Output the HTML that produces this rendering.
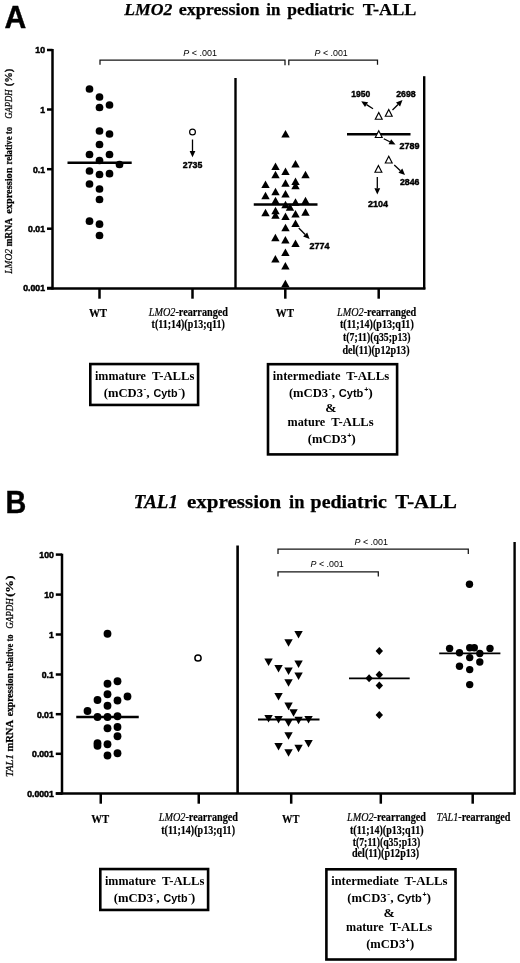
<!DOCTYPE html>
<html lang="en"><head><meta charset="utf-8"><title>LMO2 and TAL1 expression in pediatric T-ALL</title>
<style>
html,body{margin:0;padding:0;background:#fff;}
svg{display:block;filter:blur(0.4px);}
text{fill:#000;white-space:pre;}
</style></head>
<body>
<svg width="520" height="963" viewBox="0 0 520 963">
<rect width="520" height="963" fill="#fff"/>
<text x="4.5" y="27.9" font-family='"Liberation Sans", sans-serif' font-size="31.3" font-weight="bold" font-style="normal" text-anchor="start" textLength="21.8" lengthAdjust="spacingAndGlyphs" stroke="#000" stroke-width="0.4">A</text>
<text x="124.2" y="15" font-family='"Liberation Serif", serif' font-size="17.5" font-weight="bold" font-style="italic" text-anchor="start" textLength="48.1" lengthAdjust="spacingAndGlyphs" stroke="#000" stroke-width="0.25">LMO2</text>
<text x="178.7" y="15" font-family='"Liberation Serif", serif' font-size="17.5" font-weight="bold" font-style="normal" text-anchor="start" textLength="80.9" lengthAdjust="spacingAndGlyphs" stroke="#000" stroke-width="0.25">expression</text>
<text x="266.3" y="15" font-family='"Liberation Serif", serif' font-size="17.5" font-weight="bold" font-style="normal" text-anchor="start" textLength="14.1" lengthAdjust="spacingAndGlyphs" stroke="#000" stroke-width="0.25">in</text>
<text x="287.3" y="15" font-family='"Liberation Serif", serif' font-size="17.5" font-weight="bold" font-style="normal" text-anchor="start" textLength="66.7" lengthAdjust="spacingAndGlyphs" stroke="#000" stroke-width="0.25">pediatric</text>
<text x="362.7" y="15" font-family='"Liberation Serif", serif' font-size="17.5" font-weight="bold" font-style="normal" text-anchor="start" textLength="53.6" lengthAdjust="spacingAndGlyphs" stroke="#000" stroke-width="0.25">T-ALL</text>
<line x1="52.5" y1="49" x2="52.5" y2="289.6" stroke="#000" stroke-width="2.5" stroke-linecap="butt"/>
<line x1="47" y1="288.4" x2="425.4" y2="288.4" stroke="#000" stroke-width="2.5" stroke-linecap="butt"/>
<line x1="47" y1="50" x2="52.5" y2="50" stroke="#000" stroke-width="2.5" stroke-linecap="butt"/>
<text x="45.0" y="53.3" font-family='"Liberation Sans", sans-serif' font-size="9.2" font-weight="bold" font-style="normal" text-anchor="end" textLength="9.67" lengthAdjust="spacingAndGlyphs" stroke="#000" stroke-width="0.5">10</text>
<line x1="47" y1="109.5" x2="52.5" y2="109.5" stroke="#000" stroke-width="2.5" stroke-linecap="butt"/>
<text x="45.0" y="112.8" font-family='"Liberation Sans", sans-serif' font-size="9.2" font-weight="bold" font-style="normal" text-anchor="end" textLength="4.83" lengthAdjust="spacingAndGlyphs" stroke="#000" stroke-width="0.5">1</text>
<line x1="47" y1="169.2" x2="52.5" y2="169.2" stroke="#000" stroke-width="2.5" stroke-linecap="butt"/>
<text x="45.0" y="172.5" font-family='"Liberation Sans", sans-serif' font-size="9.2" font-weight="bold" font-style="normal" text-anchor="end" textLength="12.08" lengthAdjust="spacingAndGlyphs" stroke="#000" stroke-width="0.5">0.1</text>
<line x1="47" y1="228.7" x2="52.5" y2="228.7" stroke="#000" stroke-width="2.5" stroke-linecap="butt"/>
<text x="45.0" y="232.0" font-family='"Liberation Sans", sans-serif' font-size="9.2" font-weight="bold" font-style="normal" text-anchor="end" textLength="16.92" lengthAdjust="spacingAndGlyphs" stroke="#000" stroke-width="0.5">0.01</text>
<line x1="47" y1="288" x2="52.5" y2="288" stroke="#000" stroke-width="2.5" stroke-linecap="butt"/>
<text x="45.0" y="291.3" font-family='"Liberation Sans", sans-serif' font-size="9.2" font-weight="bold" font-style="normal" text-anchor="end" textLength="21.75" lengthAdjust="spacingAndGlyphs" stroke="#000" stroke-width="0.5">0.001</text>
<text transform="translate(12.4,273.75) rotate(-90)" font-family='"Liberation Serif", serif' font-size="11" font-weight="bold" font-style="normal" textLength="55.65" lengthAdjust="spacingAndGlyphs" stroke="#000" stroke-width="0.25"><tspan font-style="italic" font-weight="normal">LMO2</tspan> mRNA</text>
<text transform="translate(12.4,213.75) rotate(-90)" font-family='"Liberation Serif", serif' font-size="11" font-weight="bold" font-style="normal" textLength="46.25" lengthAdjust="spacingAndGlyphs" stroke="#000" stroke-width="0.25">expression</text>
<text transform="translate(12.4,164.5) rotate(-90)" font-family='"Liberation Serif", serif' font-size="11" font-weight="bold" font-style="normal" textLength="37.6" lengthAdjust="spacingAndGlyphs" stroke="#000" stroke-width="0.25">relative to</text>
<text transform="translate(12.4,118.75) rotate(-90)" font-family='"Liberation Serif", serif' font-size="11" font-weight="normal" font-style="italic" textLength="29.35" lengthAdjust="spacingAndGlyphs" stroke="#000" stroke-width="0.25">GAPDH</text>
<text transform="translate(12.4,86.25) rotate(-90)" font-family='"Liberation Serif", serif' font-size="11" font-weight="bold" font-style="normal" textLength="17.55" lengthAdjust="spacingAndGlyphs" stroke="#000" stroke-width="0.25">(%)</text>
<line x1="99.5" y1="288" x2="99.5" y2="298.7" stroke="#000" stroke-width="2.5" stroke-linecap="butt"/>
<line x1="192.5" y1="288" x2="192.5" y2="298.7" stroke="#000" stroke-width="2.5" stroke-linecap="butt"/>
<line x1="285.3" y1="288" x2="285.3" y2="298.7" stroke="#000" stroke-width="2.5" stroke-linecap="butt"/>
<line x1="378.7" y1="288" x2="378.7" y2="298.7" stroke="#000" stroke-width="2.5" stroke-linecap="butt"/>
<line x1="235.5" y1="78" x2="235.5" y2="288" stroke="#000" stroke-width="2.4" stroke-linecap="butt"/>
<line x1="424.2" y1="76.2" x2="424.2" y2="289.2" stroke="#000" stroke-width="2.4" stroke-linecap="butt"/>
<polyline points="100,64.8 100,60 285,60 285,65.2" fill="none" stroke="#141414" stroke-width="1.25"/>
<polyline points="288.8,65.2 288.8,60 377.5,60 377.5,64.8" fill="none" stroke="#141414" stroke-width="1.25"/>
<text x="183.2" y="55.5" font-family='"Liberation Sans", sans-serif' font-size="8.4" font-weight="normal" font-style="normal" text-anchor="start" textLength="33.8" lengthAdjust="spacingAndGlyphs"><tspan font-style="italic">P</tspan> &lt; .001</text>
<text x="314.5" y="55.5" font-family='"Liberation Sans", sans-serif' font-size="8.4" font-weight="normal" font-style="normal" text-anchor="start" textLength="33.3" lengthAdjust="spacingAndGlyphs"><tspan font-style="italic">P</tspan> &lt; .001</text>
<circle cx="89.5" cy="89" r="3.85" fill="#000"/>
<circle cx="99.5" cy="97" r="3.85" fill="#000"/>
<circle cx="109.5" cy="105" r="3.85" fill="#000"/>
<circle cx="99.5" cy="107.5" r="3.85" fill="#000"/>
<circle cx="99.5" cy="131" r="3.85" fill="#000"/>
<circle cx="109.5" cy="134" r="3.85" fill="#000"/>
<circle cx="99.5" cy="144.5" r="3.85" fill="#000"/>
<circle cx="89.5" cy="154.5" r="3.85" fill="#000"/>
<circle cx="109.5" cy="154.5" r="3.85" fill="#000"/>
<circle cx="99.5" cy="160.5" r="3.85" fill="#000"/>
<circle cx="119.5" cy="164.5" r="3.85" fill="#000"/>
<circle cx="89.5" cy="171" r="3.85" fill="#000"/>
<circle cx="99.5" cy="174.5" r="3.85" fill="#000"/>
<circle cx="109.5" cy="173.7" r="3.85" fill="#000"/>
<circle cx="89.5" cy="184" r="3.85" fill="#000"/>
<circle cx="99.5" cy="189" r="3.85" fill="#000"/>
<circle cx="99.5" cy="199.5" r="3.85" fill="#000"/>
<circle cx="89.5" cy="221.2" r="3.85" fill="#000"/>
<circle cx="99.5" cy="224.2" r="3.85" fill="#000"/>
<circle cx="99.5" cy="235.5" r="3.85" fill="#000"/>
<line x1="67.5" y1="162.85" x2="131.7" y2="162.85" stroke="#000" stroke-width="2.5" stroke-linecap="butt"/>
<circle cx="192.5" cy="132" r="2.9" fill="#fff" stroke="#000" stroke-width="1.2"/>
<line x1="192.5" y1="139.5" x2="192.5" y2="151.0" stroke="#000" stroke-width="1.3" stroke-linecap="butt"/>
<polygon points="192.50,157.30 189.60,151.00 195.40,151.00" fill="#000"/>
<text x="182.8" y="168.3" font-family='"Liberation Sans", sans-serif' font-size="8.6" font-weight="bold" font-style="normal" text-anchor="start" textLength="19.5" lengthAdjust="spacingAndGlyphs" stroke="#000" stroke-width="0.4">2735</text>
<polygon points="295.5,160.05 299.70,167.45 291.30,167.45" fill="#000"/>
<polygon points="275.5,162.55 279.70,169.95 271.30,169.95" fill="#000"/>
<polygon points="285.5,167.55 289.70,174.95 281.30,174.95" fill="#000"/>
<polygon points="275.5,170.80 279.70,178.20 271.30,178.20" fill="#000"/>
<polygon points="305.5,170.80 309.70,178.20 301.30,178.20" fill="#000"/>
<polygon points="295.5,177.55 299.70,184.95 291.30,184.95" fill="#000"/>
<polygon points="285.5,179.30 289.70,186.70 281.30,186.70" fill="#000"/>
<polygon points="265.5,180.55 269.70,187.95 261.30,187.95" fill="#000"/>
<polygon points="295.5,181.80 299.70,189.20 291.30,189.20" fill="#000"/>
<polygon points="275.5,187.80 279.70,195.20 271.30,195.20" fill="#000"/>
<polygon points="285.5,190.05 289.70,197.45 281.30,197.45" fill="#000"/>
<polygon points="265.5,191.80 269.70,199.20 261.30,199.20" fill="#000"/>
<polygon points="275.5,196.80 279.70,204.20 271.30,204.20" fill="#000"/>
<polygon points="305.5,196.80 309.70,204.20 301.30,204.20" fill="#000"/>
<polygon points="295.5,198.30 299.70,205.70 291.30,205.70" fill="#000"/>
<polygon points="285.5,200.80 289.70,208.20 281.30,208.20" fill="#000"/>
<polygon points="290,203.30 294.20,210.70 285.80,210.70" fill="#000"/>
<polygon points="275.5,206.80 279.70,214.20 271.30,214.20" fill="#000"/>
<polygon points="265.5,208.80 269.70,216.20 261.30,216.20" fill="#000"/>
<polygon points="305.5,208.30 309.70,215.70 301.30,215.70" fill="#000"/>
<polygon points="295.5,210.05 299.70,217.45 291.30,217.45" fill="#000"/>
<polygon points="275.5,211.30 279.70,218.70 271.30,218.70" fill="#000"/>
<polygon points="285.5,212.55 289.70,219.95 281.30,219.95" fill="#000"/>
<polygon points="295.5,219.50 299.70,226.90 291.30,226.90" fill="#000"/>
<polygon points="285.5,223.80 289.70,231.20 281.30,231.20" fill="#000"/>
<polygon points="275.4,233.80 279.60,241.20 271.20,241.20" fill="#000"/>
<polygon points="285.4,236.00 289.60,243.40 281.20,243.40" fill="#000"/>
<polygon points="295.5,239.50 299.70,246.90 291.30,246.90" fill="#000"/>
<polygon points="285.4,248.60 289.60,256.00 281.20,256.00" fill="#000"/>
<polygon points="275.4,255.00 279.60,262.40 271.20,262.40" fill="#000"/>
<polygon points="285.4,262.05 289.60,269.45 281.20,269.45" fill="#000"/>
<polygon points="285.4,279.80 289.60,287.20 281.20,287.20" fill="#000"/>
<polygon points="285.5,130.05 289.70,137.45 281.30,137.45" fill="#000"/>
<line x1="253.75" y1="204.5" x2="317.5" y2="204.5" stroke="#000" stroke-width="2.5" stroke-linecap="butt"/>
<line x1="298.75" y1="228" x2="305.16" y2="234.43" stroke="#000" stroke-width="1.3" stroke-linecap="butt"/>
<polygon points="309.60,238.90 303.10,236.48 307.21,232.39" fill="#000"/>
<text x="309.5" y="249.2" font-family='"Liberation Sans", sans-serif' font-size="8.6" font-weight="bold" font-style="normal" text-anchor="start" textLength="20" lengthAdjust="spacingAndGlyphs" stroke="#000" stroke-width="0.4">2774</text>
<line x1="347" y1="134.2" x2="410.5" y2="134.2" stroke="#000" stroke-width="2.5" stroke-linecap="butt"/>
<polygon points="378.75,112.45 382.20,119.25 375.30,119.25" fill="#fff" stroke="#000" stroke-width="1.15" stroke-linejoin="miter"/>
<polygon points="388.75,109.45 392.20,116.25 385.30,116.25" fill="#fff" stroke="#000" stroke-width="1.15" stroke-linejoin="miter"/>
<polygon points="378.75,130.70 382.20,137.50 375.30,137.50" fill="#fff" stroke="#000" stroke-width="1.15" stroke-linejoin="miter"/>
<polygon points="388.75,156.20 392.20,163.00 385.30,163.00" fill="#fff" stroke="#000" stroke-width="1.15" stroke-linejoin="miter"/>
<polygon points="378.4,165.45 381.85,172.25 374.95,172.25" fill="#fff" stroke="#000" stroke-width="1.15" stroke-linejoin="miter"/>
<line x1="373" y1="108.75" x2="366.56" y2="104.64" stroke="#000" stroke-width="1.3" stroke-linecap="butt"/>
<polygon points="361.25,101.25 368.12,102.20 365.00,107.08" fill="#000"/>
<line x1="392.5" y1="110" x2="398.05" y2="104.45" stroke="#000" stroke-width="1.3" stroke-linecap="butt"/>
<polygon points="402.50,100.00 400.10,106.51 395.99,102.40" fill="#000"/>
<line x1="383.75" y1="138.75" x2="389.84" y2="141.73" stroke="#000" stroke-width="1.3" stroke-linecap="butt"/>
<polygon points="395.50,144.50 388.57,144.34 391.12,139.13" fill="#000"/>
<line x1="394.25" y1="165" x2="400.39" y2="170.71" stroke="#000" stroke-width="1.3" stroke-linecap="butt"/>
<polygon points="405.00,175.00 398.41,172.83 402.36,168.59" fill="#000"/>
<line x1="377.3" y1="177" x2="377.3" y2="188.3" stroke="#000" stroke-width="1.3" stroke-linecap="butt"/>
<polygon points="377.30,194.60 374.40,188.30 380.20,188.30" fill="#000"/>
<text x="351.2" y="96.75" font-family='"Liberation Sans", sans-serif' font-size="8.6" font-weight="bold" font-style="normal" text-anchor="start" textLength="19" lengthAdjust="spacingAndGlyphs" stroke="#000" stroke-width="0.4">1950</text>
<text x="396.2" y="96.75" font-family='"Liberation Sans", sans-serif' font-size="8.6" font-weight="bold" font-style="normal" text-anchor="start" textLength="19.5" lengthAdjust="spacingAndGlyphs" stroke="#000" stroke-width="0.4">2698</text>
<text x="399.5" y="149.3" font-family='"Liberation Sans", sans-serif' font-size="8.6" font-weight="bold" font-style="normal" text-anchor="start" textLength="20" lengthAdjust="spacingAndGlyphs" stroke="#000" stroke-width="0.4">2789</text>
<text x="400" y="185.1" font-family='"Liberation Sans", sans-serif' font-size="8.6" font-weight="bold" font-style="normal" text-anchor="start" textLength="19.5" lengthAdjust="spacingAndGlyphs" stroke="#000" stroke-width="0.4">2846</text>
<text x="368" y="206.75" font-family='"Liberation Sans", sans-serif' font-size="8.6" font-weight="bold" font-style="normal" text-anchor="start" textLength="20" lengthAdjust="spacingAndGlyphs" stroke="#000" stroke-width="0.4">2104</text>
<text x="88.9" y="317.0" font-family='"Liberation Serif", serif' font-size="13.3" font-weight="bold" font-style="normal" text-anchor="start" textLength="18.3" lengthAdjust="spacingAndGlyphs" stroke="#000" stroke-width="0.2">WT</text>
<text x="148.75" y="315.9" font-family='"Liberation Serif", serif' font-size="12.5" font-weight="bold" font-style="normal" text-anchor="start" textLength="79.25" lengthAdjust="spacingAndGlyphs" stroke="#000" stroke-width="0.2"><tspan font-style="italic" font-weight="normal">LMO2-</tspan>rearranged</text>
<text x="151.6" y="328.4" font-family='"Liberation Serif", serif' font-size="12.5" font-weight="bold" font-style="normal" text-anchor="start" textLength="73.3" lengthAdjust="spacingAndGlyphs" stroke="#000" stroke-width="0.2">t(11;14)(p13;q11)</text>
<text x="275.7" y="317.0" font-family='"Liberation Serif", serif' font-size="13.3" font-weight="bold" font-style="normal" text-anchor="start" textLength="18.3" lengthAdjust="spacingAndGlyphs" stroke="#000" stroke-width="0.2">WT</text>
<text x="337" y="315.9" font-family='"Liberation Serif", serif' font-size="12.5" font-weight="bold" font-style="normal" text-anchor="start" textLength="79.25" lengthAdjust="spacingAndGlyphs" stroke="#000" stroke-width="0.2"><tspan font-style="italic" font-weight="normal">LMO2-</tspan>rearranged</text>
<text x="340" y="328.4" font-family='"Liberation Serif", serif' font-size="12.5" font-weight="bold" font-style="normal" text-anchor="start" textLength="73.75" lengthAdjust="spacingAndGlyphs" stroke="#000" stroke-width="0.2">t(11;14)(p13;q11)</text>
<text x="343" y="341.4" font-family='"Liberation Serif", serif' font-size="12.5" font-weight="bold" font-style="normal" text-anchor="start" textLength="67.5" lengthAdjust="spacingAndGlyphs" stroke="#000" stroke-width="0.2">t(7;11)(q35;p13)</text>
<text x="342.5" y="354.0" font-family='"Liberation Serif", serif' font-size="12.5" font-weight="bold" font-style="normal" text-anchor="start" textLength="67" lengthAdjust="spacingAndGlyphs" stroke="#000" stroke-width="0.2">del(11)(p12p13)</text>
<rect x="90.30" y="364.05" width="107.80" height="40.90" fill="none" stroke="#000" stroke-width="2.6"/>
<text x="95" y="380.3" font-family='"Liberation Serif", serif' font-size="13.5" font-weight="bold" font-style="normal" text-anchor="start" textLength="51" lengthAdjust="spacingAndGlyphs">immature</text>
<text x="151.9" y="380.3" font-family='"Liberation Serif", serif' font-size="13.5" font-weight="bold" font-style="normal" text-anchor="start" textLength="42.5" lengthAdjust="spacingAndGlyphs">T-ALLs</text>
<text x="103.75" y="397.0" font-family='"Liberation Serif", serif' font-size="13.5" font-weight="bold" font-style="normal" text-anchor="start" textLength="39.3" lengthAdjust="spacingAndGlyphs">(mCD3</text>
<text x="143.6" y="392.4" font-family='"Liberation Serif", serif' font-size="8.5" font-weight="bold" font-style="normal" text-anchor="start">-</text>
<text x="146.3" y="397.0" font-family='"Liberation Serif", serif' font-size="13.5" font-weight="bold" font-style="normal" text-anchor="start">,</text>
<text x="153.5" y="397.0" font-family='"Liberation Sans", sans-serif' font-size="11" font-weight="bold" font-style="normal" text-anchor="start" textLength="24" lengthAdjust="spacingAndGlyphs">Cytb</text>
<text x="178.2" y="392.4" font-family='"Liberation Serif", serif' font-size="8.5" font-weight="bold" font-style="normal" text-anchor="start">-</text>
<text x="180.8" y="397.0" font-family='"Liberation Serif", serif' font-size="13.5" font-weight="bold" font-style="normal" text-anchor="start">)</text>
<rect x="268.00" y="364.20" width="129.10" height="90.20" fill="none" stroke="#000" stroke-width="2.6"/>
<text x="272.8" y="379.7" font-family='"Liberation Serif", serif' font-size="13.5" font-weight="bold" font-style="normal" text-anchor="start" textLength="67.7" lengthAdjust="spacingAndGlyphs">intermediate</text>
<text x="346.2" y="379.7" font-family='"Liberation Serif", serif' font-size="13.5" font-weight="bold" font-style="normal" text-anchor="start" textLength="43" lengthAdjust="spacingAndGlyphs">T-ALLs</text>
<text x="288.9" y="396.6" font-family='"Liberation Serif", serif' font-size="13.5" font-weight="bold" font-style="normal" text-anchor="start" textLength="39.3" lengthAdjust="spacingAndGlyphs">(mCD3</text>
<text x="328.8" y="392.0" font-family='"Liberation Serif", serif' font-size="8.5" font-weight="bold" font-style="normal" text-anchor="start">-</text>
<text x="331.8" y="396.6" font-family='"Liberation Serif", serif' font-size="13.5" font-weight="bold" font-style="normal" text-anchor="start">,</text>
<text x="338.7" y="396.6" font-family='"Liberation Sans", sans-serif' font-size="11" font-weight="bold" font-style="normal" text-anchor="start" textLength="24.7" lengthAdjust="spacingAndGlyphs">Cytb</text>
<text x="364.2" y="391.8" font-family='"Liberation Sans", sans-serif' font-size="7" font-weight="bold" font-style="normal" text-anchor="start">+</text>
<text x="368.2" y="396.6" font-family='"Liberation Serif", serif' font-size="13.5" font-weight="bold" font-style="normal" text-anchor="start">)</text>
<text x="330.8" y="411.5" font-family='"Liberation Serif", serif' font-size="13.5" font-weight="bold" font-style="normal" text-anchor="middle">&amp;</text>
<text x="287.6" y="426.2" font-family='"Liberation Serif", serif' font-size="13.5" font-weight="bold" font-style="normal" text-anchor="start" textLength="37.7" lengthAdjust="spacingAndGlyphs">mature</text>
<text x="331.3" y="426.2" font-family='"Liberation Serif", serif' font-size="13.5" font-weight="bold" font-style="normal" text-anchor="start" textLength="42.4" lengthAdjust="spacingAndGlyphs">T-ALLs</text>
<text x="307.8" y="443" font-family='"Liberation Serif", serif' font-size="13.5" font-weight="bold" font-style="normal" text-anchor="start" textLength="39.0" lengthAdjust="spacingAndGlyphs">(mCD3</text>
<text x="347.2" y="438.2" font-family='"Liberation Sans", sans-serif' font-size="7" font-weight="bold" font-style="normal" text-anchor="start">+</text>
<text x="351.3" y="443" font-family='"Liberation Serif", serif' font-size="13.5" font-weight="bold" font-style="normal" text-anchor="start">)</text>
<text x="5.4" y="513.3" font-family='"Liberation Sans", sans-serif' font-size="31" font-weight="bold" font-style="normal" text-anchor="start" textLength="20.8" lengthAdjust="spacingAndGlyphs" stroke="#000" stroke-width="0.4">B</text>
<text x="133.7" y="508.2" font-family='"Liberation Serif", serif' font-size="19.3" font-weight="bold" font-style="italic" text-anchor="start" textLength="44.2" lengthAdjust="spacingAndGlyphs" stroke="#000" stroke-width="0.25">TAL1</text>
<text x="186.9" y="508.2" font-family='"Liberation Serif", serif' font-size="19.3" font-weight="bold" font-style="normal" text-anchor="start" textLength="94.4" lengthAdjust="spacingAndGlyphs" stroke="#000" stroke-width="0.25">expression</text>
<text x="289" y="508.2" font-family='"Liberation Serif", serif' font-size="19.3" font-weight="bold" font-style="normal" text-anchor="start" textLength="15.4" lengthAdjust="spacingAndGlyphs" stroke="#000" stroke-width="0.25">in</text>
<text x="310.6" y="508.2" font-family='"Liberation Serif", serif' font-size="19.3" font-weight="bold" font-style="normal" text-anchor="start" textLength="76.3" lengthAdjust="spacingAndGlyphs" stroke="#000" stroke-width="0.25">pediatric</text>
<text x="395.2" y="508.2" font-family='"Liberation Serif", serif' font-size="19.3" font-weight="bold" font-style="normal" text-anchor="start" textLength="61.8" lengthAdjust="spacingAndGlyphs" stroke="#000" stroke-width="0.25">T-ALL</text>
<line x1="62" y1="553.7" x2="62" y2="794.5" stroke="#000" stroke-width="2.5" stroke-linecap="butt"/>
<line x1="55.8" y1="793.5" x2="515.6" y2="793.5" stroke="#000" stroke-width="2.5" stroke-linecap="butt"/>
<line x1="55.8" y1="554.6" x2="62" y2="554.6" stroke="#000" stroke-width="2.5" stroke-linecap="butt"/>
<text x="53.8" y="557.9" font-family='"Liberation Sans", sans-serif' font-size="9.2" font-weight="bold" font-style="normal" text-anchor="end" textLength="14.5" lengthAdjust="spacingAndGlyphs" stroke="#000" stroke-width="0.5">100</text>
<line x1="55.8" y1="594.6" x2="62" y2="594.6" stroke="#000" stroke-width="2.5" stroke-linecap="butt"/>
<text x="53.8" y="597.9" font-family='"Liberation Sans", sans-serif' font-size="9.2" font-weight="bold" font-style="normal" text-anchor="end" textLength="9.67" lengthAdjust="spacingAndGlyphs" stroke="#000" stroke-width="0.5">10</text>
<line x1="55.8" y1="634.5" x2="62" y2="634.5" stroke="#000" stroke-width="2.5" stroke-linecap="butt"/>
<text x="53.8" y="637.8" font-family='"Liberation Sans", sans-serif' font-size="9.2" font-weight="bold" font-style="normal" text-anchor="end" textLength="4.83" lengthAdjust="spacingAndGlyphs" stroke="#000" stroke-width="0.5">1</text>
<line x1="55.8" y1="674.5" x2="62" y2="674.5" stroke="#000" stroke-width="2.5" stroke-linecap="butt"/>
<text x="53.8" y="677.8" font-family='"Liberation Sans", sans-serif' font-size="9.2" font-weight="bold" font-style="normal" text-anchor="end" textLength="12.08" lengthAdjust="spacingAndGlyphs" stroke="#000" stroke-width="0.5">0.1</text>
<line x1="55.8" y1="714.2" x2="62" y2="714.2" stroke="#000" stroke-width="2.5" stroke-linecap="butt"/>
<text x="53.8" y="717.5" font-family='"Liberation Sans", sans-serif' font-size="9.2" font-weight="bold" font-style="normal" text-anchor="end" textLength="16.92" lengthAdjust="spacingAndGlyphs" stroke="#000" stroke-width="0.5">0.01</text>
<line x1="55.8" y1="753.8" x2="62" y2="753.8" stroke="#000" stroke-width="2.5" stroke-linecap="butt"/>
<text x="53.8" y="757.0999999999999" font-family='"Liberation Sans", sans-serif' font-size="9.2" font-weight="bold" font-style="normal" text-anchor="end" textLength="21.75" lengthAdjust="spacingAndGlyphs" stroke="#000" stroke-width="0.5">0.001</text>
<line x1="55.8" y1="793.5" x2="62" y2="793.5" stroke="#000" stroke-width="2.5" stroke-linecap="butt"/>
<text x="53.8" y="796.8" font-family='"Liberation Sans", sans-serif' font-size="9.2" font-weight="bold" font-style="normal" text-anchor="end" textLength="26.59" lengthAdjust="spacingAndGlyphs" stroke="#000" stroke-width="0.5">0.0001</text>
<text transform="translate(12.7,776.9) rotate(-90)" font-family='"Liberation Serif", serif' font-size="11" font-weight="bold" font-style="normal" textLength="56.9" lengthAdjust="spacingAndGlyphs" stroke="#000" stroke-width="0.25"><tspan font-style="italic" font-weight="normal">TAL1</tspan> mRNA</text>
<text transform="translate(12.7,716.25) rotate(-90)" font-family='"Liberation Serif", serif' font-size="11" font-weight="bold" font-style="normal" textLength="43.25" lengthAdjust="spacingAndGlyphs" stroke="#000" stroke-width="0.25">expression</text>
<text transform="translate(12.7,671) rotate(-90)" font-family='"Liberation Serif", serif' font-size="11" font-weight="bold" font-style="normal" textLength="36.6" lengthAdjust="spacingAndGlyphs" stroke="#000" stroke-width="0.25">relative to</text>
<text transform="translate(12.7,628.75) rotate(-90)" font-family='"Liberation Serif", serif' font-size="11" font-weight="normal" font-style="italic" textLength="30.65" lengthAdjust="spacingAndGlyphs" stroke="#000" stroke-width="0.25">GAPDH</text>
<text transform="translate(12.7,596.9) rotate(-90)" font-family='"Liberation Serif", serif' font-size="11" font-weight="bold" font-style="normal" textLength="21.3" lengthAdjust="spacingAndGlyphs" stroke="#000" stroke-width="0.25">(%)</text>
<line x1="100.75" y1="793.5" x2="100.75" y2="803.7" stroke="#000" stroke-width="2.5" stroke-linecap="butt"/>
<line x1="198.75" y1="793.5" x2="198.75" y2="803.7" stroke="#000" stroke-width="2.5" stroke-linecap="butt"/>
<line x1="291.2" y1="793.5" x2="291.2" y2="803.7" stroke="#000" stroke-width="2.5" stroke-linecap="butt"/>
<line x1="380.8" y1="793.5" x2="380.8" y2="803.7" stroke="#000" stroke-width="2.5" stroke-linecap="butt"/>
<line x1="472.7" y1="793.5" x2="472.7" y2="803.7" stroke="#000" stroke-width="2.5" stroke-linecap="butt"/>
<line x1="237.6" y1="545.5" x2="237.6" y2="793.5" stroke="#000" stroke-width="2.6" stroke-linecap="butt"/>
<line x1="514.6" y1="542" x2="514.6" y2="794.5" stroke="#000" stroke-width="2.4" stroke-linecap="butt"/>
<polyline points="278,554 278,549.2 468.3,549.2 468.3,554" fill="none" stroke="#141414" stroke-width="1.25"/>
<polyline points="278,576.5 278,571.9 378.3,571.9 378.3,576.5" fill="none" stroke="#141414" stroke-width="1.25"/>
<text x="354.5" y="544.5" font-family='"Liberation Sans", sans-serif' font-size="8.4" font-weight="normal" font-style="normal" text-anchor="start" textLength="33.5" lengthAdjust="spacingAndGlyphs"><tspan font-style="italic">P</tspan> &lt; .001</text>
<text x="310.5" y="567.4" font-family='"Liberation Sans", sans-serif' font-size="8.4" font-weight="normal" font-style="normal" text-anchor="start" textLength="33.3" lengthAdjust="spacingAndGlyphs"><tspan font-style="italic">P</tspan> &lt; .001</text>
<circle cx="107.5" cy="633.75" r="3.9" fill="#000"/>
<circle cx="107.5" cy="683.75" r="3.9" fill="#000"/>
<circle cx="117.5" cy="681.25" r="3.9" fill="#000"/>
<circle cx="107.5" cy="694.25" r="3.9" fill="#000"/>
<circle cx="127.5" cy="696.5" r="3.9" fill="#000"/>
<circle cx="97.5" cy="700" r="3.9" fill="#000"/>
<circle cx="117.5" cy="700.5" r="3.9" fill="#000"/>
<circle cx="107.5" cy="705.75" r="3.9" fill="#000"/>
<circle cx="87.5" cy="711" r="3.9" fill="#000"/>
<circle cx="97.5" cy="717" r="3.9" fill="#000"/>
<circle cx="107.5" cy="717" r="3.9" fill="#000"/>
<circle cx="117.5" cy="716.25" r="3.9" fill="#000"/>
<circle cx="107.5" cy="728.25" r="3.9" fill="#000"/>
<circle cx="117.5" cy="727" r="3.9" fill="#000"/>
<circle cx="117.5" cy="736.25" r="3.9" fill="#000"/>
<circle cx="97.5" cy="743.2" r="3.9" fill="#000"/>
<circle cx="97.5" cy="745.8" r="3.9" fill="#000"/>
<circle cx="107.5" cy="744.25" r="3.9" fill="#000"/>
<circle cx="107.5" cy="755.5" r="3.9" fill="#000"/>
<circle cx="117.5" cy="753.25" r="3.9" fill="#000"/>
<line x1="76.25" y1="717" x2="138.75" y2="717" stroke="#000" stroke-width="2.3" stroke-linecap="butt"/>
<circle cx="198" cy="658" r="3.1" fill="#fff" stroke="#000" stroke-width="1.5"/>
<polygon points="294.35,630.95 302.75,630.95 298.55,638.55" fill="#000"/>
<polygon points="284.35,639.20 292.75,639.20 288.55,646.80" fill="#000"/>
<polygon points="264.35,658.45 272.75,658.45 268.55,666.05" fill="#000"/>
<polygon points="294.35,660.45 302.75,660.45 298.55,668.05" fill="#000"/>
<polygon points="274.35,664.95 282.75,664.95 278.55,672.55" fill="#000"/>
<polygon points="284.35,667.45 292.75,667.45 288.55,675.05" fill="#000"/>
<polygon points="294.35,672.45 302.75,672.45 298.55,680.05" fill="#000"/>
<polygon points="284.35,679.20 292.75,679.20 288.55,686.80" fill="#000"/>
<polygon points="274.35,692.95 282.75,692.95 278.55,700.55" fill="#000"/>
<polygon points="284.35,702.60 292.75,702.60 288.55,710.20" fill="#000"/>
<polygon points="289.35,709.20 297.75,709.20 293.55,716.80" fill="#000"/>
<polygon points="264.35,714.95 272.75,714.95 268.55,722.55" fill="#000"/>
<polygon points="274.35,715.95 282.75,715.95 278.55,723.55" fill="#000"/>
<polygon points="284.35,719.20 292.75,719.20 288.55,726.80" fill="#000"/>
<polygon points="294.35,716.70 302.75,716.70 298.55,724.30" fill="#000"/>
<polygon points="304.35,715.95 312.75,715.95 308.55,723.55" fill="#000"/>
<polygon points="284.35,732.20 292.75,732.20 288.55,739.80" fill="#000"/>
<polygon points="304.35,739.95 312.75,739.95 308.55,747.55" fill="#000"/>
<polygon points="274.35,742.95 282.75,742.95 278.55,750.55" fill="#000"/>
<polygon points="294.35,744.70 302.75,744.70 298.55,752.30" fill="#000"/>
<polygon points="284.35,749.20 292.75,749.20 288.55,756.80" fill="#000"/>
<line x1="258" y1="719.6" x2="319.5" y2="719.6" stroke="#000" stroke-width="2.0" stroke-linecap="butt"/>
<polygon points="379.3,646.90 383.00,650.9 379.3,654.90 375.60,650.9" fill="#000"/>
<polygon points="379.3,670.70 383.00,674.7 379.3,678.70 375.60,674.7" fill="#000"/>
<polygon points="369.1,674.30 372.80,678.3 369.1,682.30 365.40,678.3" fill="#000"/>
<polygon points="379.3,681.60 383.00,685.6 379.3,689.60 375.60,685.6" fill="#000"/>
<polygon points="379.3,710.90 383.00,714.9 379.3,718.90 375.60,714.9" fill="#000"/>
<line x1="349" y1="678.4" x2="409.7" y2="678.4" stroke="#000" stroke-width="1.7" stroke-linecap="butt"/>
<circle cx="449.6" cy="648.4" r="3.7" fill="#000"/>
<circle cx="469.7" cy="647.7" r="3.7" fill="#000"/>
<circle cx="474.3" cy="647.7" r="3.7" fill="#000"/>
<circle cx="490" cy="648.4" r="3.7" fill="#000"/>
<circle cx="459.5" cy="652.8" r="3.7" fill="#000"/>
<circle cx="479.8" cy="653.5" r="3.7" fill="#000"/>
<circle cx="469.7" cy="657.6" r="3.7" fill="#000"/>
<circle cx="479.8" cy="662" r="3.7" fill="#000"/>
<circle cx="459.5" cy="666.2" r="3.7" fill="#000"/>
<circle cx="469.7" cy="669.6" r="3.7" fill="#000"/>
<circle cx="469.7" cy="684.6" r="3.7" fill="#000"/>
<circle cx="469.5" cy="584.25" r="3.7" fill="#000"/>
<line x1="439.2" y1="653.3" x2="500.4" y2="653.3" stroke="#000" stroke-width="1.8" stroke-linecap="butt"/>
<text x="91.25" y="822.7" font-family='"Liberation Serif", serif' font-size="13.3" font-weight="bold" font-style="normal" text-anchor="start" textLength="18" lengthAdjust="spacingAndGlyphs" stroke="#000" stroke-width="0.2">WT</text>
<text x="158.75" y="821.15" font-family='"Liberation Serif", serif' font-size="12.5" font-weight="bold" font-style="normal" text-anchor="start" textLength="79.25" lengthAdjust="spacingAndGlyphs" stroke="#000" stroke-width="0.2"><tspan font-style="italic" font-weight="normal">LMO2-</tspan>rearranged</text>
<text x="161.25" y="833.9" font-family='"Liberation Serif", serif' font-size="12.5" font-weight="bold" font-style="normal" text-anchor="start" textLength="73.75" lengthAdjust="spacingAndGlyphs" stroke="#000" stroke-width="0.2">t(11;14)(p13;q11)</text>
<text x="282" y="822.7" font-family='"Liberation Serif", serif' font-size="13.3" font-weight="bold" font-style="normal" text-anchor="start" textLength="17.5" lengthAdjust="spacingAndGlyphs" stroke="#000" stroke-width="0.2">WT</text>
<text x="347" y="820.9" font-family='"Liberation Serif", serif' font-size="12.5" font-weight="bold" font-style="normal" text-anchor="start" textLength="79" lengthAdjust="spacingAndGlyphs" stroke="#000" stroke-width="0.2"><tspan font-style="italic" font-weight="normal">LMO2-</tspan>rearranged</text>
<text x="436.5" y="821.15" font-family='"Liberation Serif", serif' font-size="12.5" font-weight="bold" font-style="normal" text-anchor="start" textLength="74" lengthAdjust="spacingAndGlyphs" stroke="#000" stroke-width="0.2"><tspan font-style="italic" font-weight="normal">TAL1-</tspan>rearranged</text>
<text x="350" y="833.9" font-family='"Liberation Serif", serif' font-size="12.5" font-weight="bold" font-style="normal" text-anchor="start" textLength="73.5" lengthAdjust="spacingAndGlyphs" stroke="#000" stroke-width="0.2">t(11;14)(p13;q11)</text>
<text x="352.7" y="845.6" font-family='"Liberation Serif", serif' font-size="12.5" font-weight="bold" font-style="normal" text-anchor="start" textLength="67.5" lengthAdjust="spacingAndGlyphs" stroke="#000" stroke-width="0.2">t(7;11)(q35;p13)</text>
<text x="352" y="857.4" font-family='"Liberation Serif", serif' font-size="12.5" font-weight="bold" font-style="normal" text-anchor="start" textLength="67.2" lengthAdjust="spacingAndGlyphs" stroke="#000" stroke-width="0.2">del(11)(p12p13)</text>
<rect x="100.30" y="869.05" width="107.80" height="40.90" fill="none" stroke="#000" stroke-width="2.6"/>
<text x="105" y="885.3" font-family='"Liberation Serif", serif' font-size="13.5" font-weight="bold" font-style="normal" text-anchor="start" textLength="51" lengthAdjust="spacingAndGlyphs">immature</text>
<text x="161.9" y="885.3" font-family='"Liberation Serif", serif' font-size="13.5" font-weight="bold" font-style="normal" text-anchor="start" textLength="42.5" lengthAdjust="spacingAndGlyphs">T-ALLs</text>
<text x="113.75" y="902.0" font-family='"Liberation Serif", serif' font-size="13.5" font-weight="bold" font-style="normal" text-anchor="start" textLength="39.3" lengthAdjust="spacingAndGlyphs">(mCD3</text>
<text x="153.6" y="897.4" font-family='"Liberation Serif", serif' font-size="8.5" font-weight="bold" font-style="normal" text-anchor="start">-</text>
<text x="156.3" y="902.0" font-family='"Liberation Serif", serif' font-size="13.5" font-weight="bold" font-style="normal" text-anchor="start">,</text>
<text x="163.5" y="902.0" font-family='"Liberation Sans", sans-serif' font-size="11" font-weight="bold" font-style="normal" text-anchor="start" textLength="24" lengthAdjust="spacingAndGlyphs">Cytb</text>
<text x="188.2" y="897.4" font-family='"Liberation Serif", serif' font-size="8.5" font-weight="bold" font-style="normal" text-anchor="start">-</text>
<text x="190.8" y="902.0" font-family='"Liberation Serif", serif' font-size="13.5" font-weight="bold" font-style="normal" text-anchor="start">)</text>
<rect x="326.40" y="869.30" width="129.10" height="90.20" fill="none" stroke="#000" stroke-width="2.6"/>
<text x="331.2" y="884.8" font-family='"Liberation Serif", serif' font-size="13.5" font-weight="bold" font-style="normal" text-anchor="start" textLength="67.7" lengthAdjust="spacingAndGlyphs">intermediate</text>
<text x="404.59999999999997" y="884.8" font-family='"Liberation Serif", serif' font-size="13.5" font-weight="bold" font-style="normal" text-anchor="start" textLength="43" lengthAdjust="spacingAndGlyphs">T-ALLs</text>
<text x="347.29999999999995" y="901.7" font-family='"Liberation Serif", serif' font-size="13.5" font-weight="bold" font-style="normal" text-anchor="start" textLength="39.3" lengthAdjust="spacingAndGlyphs">(mCD3</text>
<text x="387.2" y="897.1" font-family='"Liberation Serif", serif' font-size="8.5" font-weight="bold" font-style="normal" text-anchor="start">-</text>
<text x="390.2" y="901.7" font-family='"Liberation Serif", serif' font-size="13.5" font-weight="bold" font-style="normal" text-anchor="start">,</text>
<text x="397.09999999999997" y="901.7" font-family='"Liberation Sans", sans-serif' font-size="11" font-weight="bold" font-style="normal" text-anchor="start" textLength="24.7" lengthAdjust="spacingAndGlyphs">Cytb</text>
<text x="422.59999999999997" y="896.9000000000001" font-family='"Liberation Sans", sans-serif' font-size="7" font-weight="bold" font-style="normal" text-anchor="start">+</text>
<text x="426.59999999999997" y="901.7" font-family='"Liberation Serif", serif' font-size="13.5" font-weight="bold" font-style="normal" text-anchor="start">)</text>
<text x="389.2" y="916.6" font-family='"Liberation Serif", serif' font-size="13.5" font-weight="bold" font-style="normal" text-anchor="middle">&amp;</text>
<text x="346.0" y="931.3" font-family='"Liberation Serif", serif' font-size="13.5" font-weight="bold" font-style="normal" text-anchor="start" textLength="37.7" lengthAdjust="spacingAndGlyphs">mature</text>
<text x="389.7" y="931.3" font-family='"Liberation Serif", serif' font-size="13.5" font-weight="bold" font-style="normal" text-anchor="start" textLength="42.4" lengthAdjust="spacingAndGlyphs">T-ALLs</text>
<text x="366.2" y="948.1" font-family='"Liberation Serif", serif' font-size="13.5" font-weight="bold" font-style="normal" text-anchor="start" textLength="39.0" lengthAdjust="spacingAndGlyphs">(mCD3</text>
<text x="405.59999999999997" y="943.3000000000001" font-family='"Liberation Sans", sans-serif' font-size="7" font-weight="bold" font-style="normal" text-anchor="start">+</text>
<text x="409.7" y="948.1" font-family='"Liberation Serif", serif' font-size="13.5" font-weight="bold" font-style="normal" text-anchor="start">)</text>
</svg>
</body></html>
